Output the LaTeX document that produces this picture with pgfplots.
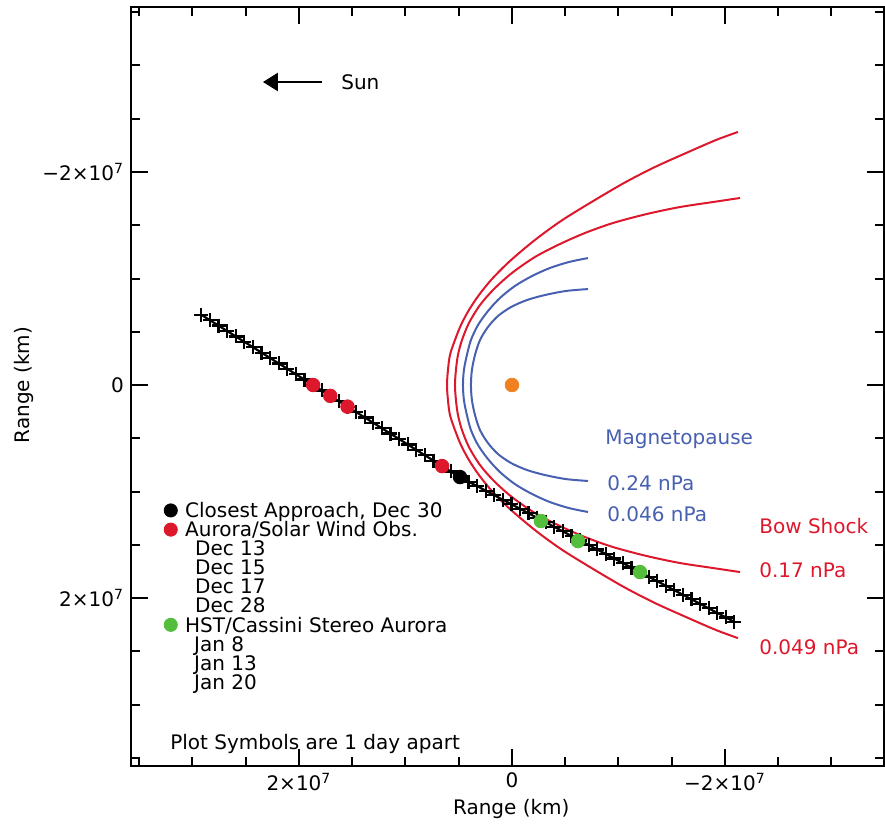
\documentclass[border=0pt]{standalone}
\usepackage{fontspec}
\setmainfont{DejaVu Sans}
\usepackage{pgfplots}
\pgfplotsset{compat=1.18}
\usetikzlibrary{arrows.meta}

\definecolor{bsred}{RGB}{222,24,44}
\definecolor{mpblue}{RGB}{72,96,176}
\definecolor{obsgreen}{RGB}{82,190,60}
\definecolor{jorange}{RGB}{240,128,32}

\tikzset{lbl/.style={anchor=base west, inner sep=0pt}}

% positions in units of 1e7 km, x = sunward
\begin{document}
\begin{tikzpicture}
\begin{axis}[
  name=ax,
  scale only axis,
  width=376.5pt, height=379.5pt,
  x dir=reverse, y dir=reverse,
  xmin=-3.493, xmax=3.577,
  ymin=-3.549, ymax=3.577,
  xtick={-2,0,2},
  xticklabels={−2×10\textsuperscript{7},0,2×10\textsuperscript{7}},
  ytick={-2,0,2},
  yticklabels={−2×10\textsuperscript{7},0,2×10\textsuperscript{7}},
  minor xtick={-3.5,-3,...,3.5},
  minor ytick={-3.5,-3,...,3.5},
  tick align=inside,
  major tick length=8.5pt,
  minor tick length=4.5pt,
  every tick/.style={black, line width=1pt},
  axis line style={line width=1.2pt},
  xlabel={Range (km)}, ylabel={Range (km)},
  xlabel style={at={(axis description cs:0.505,-0.0565)}, anchor=center},
  ylabel style={at={(axis description cs:-0.142,0.502)}, anchor=center},
  clip=false,
  legend cell align=left,
  legend style={draw=none, fill=none, inner sep=0pt,
    at={(axis cs:3.273,1.108)}, anchor=north west,
    row sep=0pt, cells={anchor=base west},
    nodes={inner xsep=3.7pt, inner ysep=0pt, text height=7pt, text depth=2.5pt}},
]

% bow shock 0.049 nPa
\addplot[bsred, line width=1pt, smooth, forget plot] coordinates {
  (-2.122,-2.376) (-1.915,-2.300) (-1.634,-2.178) (-1.343,-2.047)
  (-1.052,-1.897) (-0.732,-1.709) (-0.460,-1.540) (-0.216,-1.362)
  (0.019,-1.164) (0.188,-0.995) (0.310,-0.845) (0.404,-0.704)
  (0.479,-0.563) (0.535,-0.423) (0.582,-0.282) (0.601,-0.141)
  (0.610,0)
  (0.601,0.141) (0.582,0.282) (0.535,0.423) (0.479,0.563)
  (0.404,0.704) (0.310,0.845) (0.188,0.995) (0.019,1.164)
  (-0.216,1.362) (-0.460,1.540) (-0.732,1.709) (-1.052,1.897)
  (-1.343,2.047) (-1.634,2.178) (-1.915,2.300) (-2.122,2.376)
};
% bow shock 0.17 nPa
\addplot[bsred, line width=1pt, smooth, forget plot] coordinates {
  (-2.141,-1.756) (-1.887,-1.718) (-1.577,-1.671) (-1.268,-1.606)
  (-0.948,-1.521) (-0.685,-1.427) (-0.451,-1.324) (-0.216,-1.202)
  (0.000,-1.052) (0.169,-0.901) (0.300,-0.751) (0.404,-0.582)
  (0.469,-0.423) (0.507,-0.282) (0.526,-0.141) (0.535,0)
  (0.526,0.141) (0.507,0.282) (0.469,0.423) (0.404,0.582)
  (0.300,0.751) (0.169,0.901) (0.000,1.052) (-0.216,1.202)
  (-0.451,1.324) (-0.685,1.427) (-0.948,1.521) (-1.268,1.606)
  (-1.577,1.671) (-1.887,1.718) (-2.141,1.756)
};
% magnetopause 0.046 nPa
\addplot[mpblue, line width=1pt, smooth, forget plot] coordinates {
  (-0.714,-1.192) (-0.535,-1.155) (-0.357,-1.099) (-0.188,-1.023)
  (-0.028,-0.930) (0.113,-0.817) (0.225,-0.695) (0.319,-0.563)
  (0.385,-0.423) (0.423,-0.282) (0.451,-0.141) (0.460,0)
  (0.451,0.141) (0.423,0.282) (0.385,0.423) (0.319,0.563)
  (0.225,0.695) (0.113,0.817) (-0.028,0.930) (-0.188,1.023)
  (-0.357,1.099) (-0.535,1.155) (-0.714,1.192)
};
% magnetopause 0.24 nPa
\addplot[mpblue, line width=1pt, smooth, forget plot] coordinates {
  (-0.714,-0.901) (-0.507,-0.883) (-0.310,-0.845) (-0.141,-0.798)
  (0.009,-0.732) (0.131,-0.648) (0.225,-0.545) (0.300,-0.423)
  (0.347,-0.282) (0.376,-0.141) (0.385,0)
  (0.376,0.141) (0.347,0.282) (0.300,0.423) (0.225,0.545)
  (0.131,0.648) (0.009,0.732) (-0.141,0.798) (-0.310,0.845)
  (-0.507,0.883) (-0.714,0.901)
};

% Cassini trajectory, one symbol per day
\addplot[black, line width=1.1pt, mark=+, mark size=3.5pt,
  mark options={line width=1.1pt}, forget plot] coordinates {
  (2.916,-0.659) (2.835,-0.608) (2.755,-0.558) (2.674,-0.507)
  (2.593,-0.456) (2.513,-0.406) (2.432,-0.355) (2.351,-0.304)
  (2.270,-0.253) (2.190,-0.203) (2.109,-0.152) (2.028,-0.101)
  (1.948,-0.051) (1.867,0.000) (1.786,0.051) (1.706,0.102)
  (1.625,0.152) (1.544,0.203) (1.463,0.254) (1.383,0.304)
  (1.302,0.355) (1.221,0.406) (1.141,0.456) (1.060,0.507)
  (0.979,0.558) (0.899,0.609) (0.818,0.659) (0.737,0.710)
  (0.656,0.761) (0.576,0.811) (0.488,0.864) (0.408,0.907)
  (0.327,0.949) (0.247,0.992) (0.166,1.034) (0.086,1.077)
  (0.005,1.119) (-0.076,1.162) (-0.156,1.204) (-0.237,1.247)
  (-0.317,1.289) (-0.398,1.332) (-0.478,1.374) (-0.559,1.417)
  (-0.639,1.459) (-0.720,1.502) (-0.800,1.544) (-0.881,1.587)
  (-0.961,1.629) (-1.042,1.672) (-1.122,1.714) (-1.203,1.757)
  (-1.283,1.799) (-1.364,1.842) (-1.444,1.884) (-1.525,1.927)
  (-1.605,1.969) (-1.686,2.012) (-1.766,2.054) (-1.847,2.097)
  (-1.927,2.139) (-2.008,2.182) (-2.088,2.224)
};

% Jupiter
\addplot[only marks, mark=*, mark size=3.4pt, jorange, forget plot]
  coordinates {(0,0)};
% aurora / solar wind obs.: Dec 13, 15, 17, 28
\addplot[only marks, mark=*, mark size=3.4pt, bsred, forget plot]
  coordinates {(1.867,0.000) (1.706,0.102) (1.544,0.203) (0.656,0.761)};
% closest approach
\addplot[only marks, mark=*, mark size=3.4pt, black, forget plot]
  coordinates {(0.488,0.864)};
% HST/Cassini stereo aurora: Jan 8, 13, 20
\addplot[only marks, mark=*, mark size=3.4pt, obsgreen, forget plot]
  coordinates {(-0.272,1.277) (-0.620,1.465) (-1.202,1.756)};

\addlegendimage{legend image code/.code={\fill[black] (0pt,3.6pt) circle (3.3pt);}}
\addlegendentry{Closest Approach, Dec 30}
\addlegendimage{legend image code/.code={\fill[bsred] (0pt,3.6pt) circle (3.3pt);}}
\addlegendentry{Aurora/Solar Wind Obs.}
\addlegendimage{empty legend}\addlegendentry{\hspace{5pt}Dec 13}
\addlegendimage{empty legend}\addlegendentry{\hspace{5pt}Dec 15}
\addlegendimage{empty legend}\addlegendentry{\hspace{5pt}Dec 17}
\addlegendimage{empty legend}\addlegendentry{\hspace{5pt}Dec 28}
\addlegendimage{legend image code/.code={\fill[obsgreen] (0pt,3.6pt) circle (3.3pt);}}
\addlegendentry{HST/Cassini Stereo Aurora}
\addlegendimage{empty legend}\addlegendentry{\hspace{4.5pt}Jan 8}
\addlegendimage{empty legend}\addlegendentry{\hspace{4.5pt}Jan 13}
\addlegendimage{empty legend}\addlegendentry{\hspace{4.5pt}Jan 20}

\draw[-{Triangle[length=7.5pt,width=9pt]}, line width=1.2pt]
  (axis cs:1.784,-2.845) -- (axis cs:2.338,-2.845);
\node[lbl] at (axis cs:1.606,-2.770) {Sun};

\node[lbl, text=mpblue] at (axis cs:-0.873,0.554) {Magnetopause};
\node[lbl, text=mpblue] at (axis cs:-0.892,0.986) {0.24 nPa};
\node[lbl, text=mpblue] at (axis cs:-0.892,1.277) {0.046 nPa};
\node[lbl, text=bsred] at (axis cs:-2.319,1.390) {Bow Shock};
\node[lbl, text=bsred] at (axis cs:-2.319,1.803) {0.17 nPa};
\node[lbl, text=bsred] at (axis cs:-2.319,2.526) {0.049 nPa};

\node[lbl] at (axis cs:3.211,3.418) {Plot Symbols are 1 day apart};
\end{axis}
\pgfresetboundingbox
\path ([shift={(-65.5pt,-31.5pt)}]ax.south west) rectangle ([shift={(0.5pt,3.5pt)}]ax.north east);
\end{tikzpicture}
\end{document}
